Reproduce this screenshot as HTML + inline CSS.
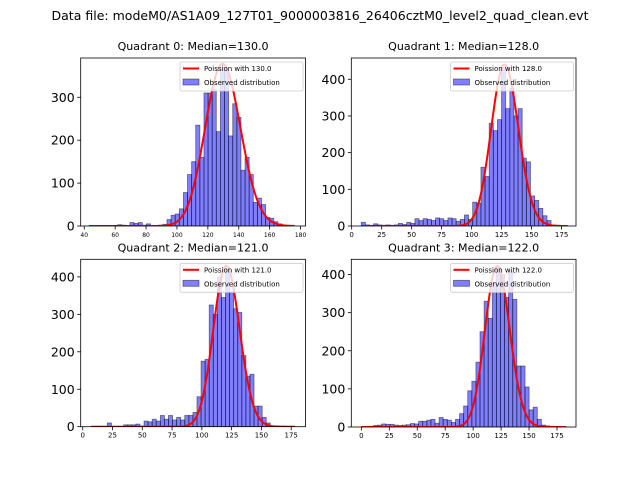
<!DOCTYPE html>
<html><head><meta charset="utf-8"><style>
html,body{margin:0;padding:0;background:#fff;}
svg{display:block;font-family:"DejaVu Sans","Liberation Sans",sans-serif;}
</style></head><body>
<svg id="fig" width="640" height="480" viewBox="0 0 640 480" xmlns="http://www.w3.org/2000/svg">
<rect width="640" height="480" fill="#fff"/>
<text x="320" y="20" font-size="12" text-anchor="middle" textLength="537" lengthAdjust="spacingAndGlyphs">Data file: modeM0/AS1A09_127T01_9000003816_26406cztM0_level2_quad_clean.evt</text>
</svg>
<script>
const medians = [130, 128, 121, 122];
const binStarts = [43, 8, 7, 0];
const binWidths = [2.66, 3.44, 3.42, 3.66];
const dataMax = [176, 180, 178, 183];
const peakHeights = [378, 440, 430, 422];
const counts0 = [0,0,0,0,0,0,1,3,2,0,8,6,8,2,5,1,0,2,4,15,25,28,40,78,120,150,235,160,310,310,318,220,370,365,210,285,253,130,160,120,55,65,50,20,18,10,5,2,1,1];
const counts1 = [10,3,2,6,3,2,3,2,3,7,4,10,7,20,15,20,18,15,22,20,15,22,20,13,18,30,18,65,62,160,135,280,260,290,440,320,375,300,320,185,175,82,70,48,28,15,3,2,1,1];
const counts2 = [0,0,0,0,10,0,0,0,5,5,5,7,2,15,13,20,15,30,20,30,18,25,18,30,30,38,80,175,180,325,300,400,345,420,360,315,305,190,135,140,55,55,25,10,2,1,0,0,0,1];
const counts3 = [0,0,2,4,5,8,7,7,5,4,5,6,9,8,15,15,18,20,10,25,20,18,12,20,35,55,95,120,170,250,330,285,380,420,400,340,410,335,160,160,105,45,52,20,5,3,2,1,0,1];
const allCounts = [counts0, counts1, counts2, counts3];
const xTicks0 = [40,60,80,100,120,140,160,180];
const xTicksOther = [0,25,50,75,100,125,150,175];
const yTicks0 = [0,100,200,300];
const yTicksOther = [0,100,200,300,400];

const panels = [
 {L:80.7,R:305.5,T:58,B:226,x0:37.7,x1:183.2,ymax:391.6,xt:xTicks0,yt:yTicks0,xfs:6},
 {L:351.3,R:576,T:58,B:226,x0:-0.3,x1:187,ymax:458,xt:xTicksOther,yt:yTicksOther,xfs:7},
 {L:80.7,R:305.5,T:259.3,B:426.7,x0:-1.7,x1:187,ymax:447,xt:xTicksOther,yt:yTicksOther,xfs:7},
 {L:351.3,R:576,T:259.3,B:427,x0:-9,x1:192,ymax:440,xt:xTicksOther,yt:yTicksOther,xfs:7}
];
const NS='http://www.w3.org/2000/svg';
const svg=document.getElementById('fig');
function mk(tag,attrs,parent){const e=document.createElementNS(NS,tag);for(const k in attrs)e.setAttribute(k,attrs[k]);(parent||svg).appendChild(e);return e;}
function lgamma(x){const c=[76.18009172947146,-86.50532032941677,24.01409824083091,-1.231739572450155,0.1208650973866179e-2,-0.5395239384953e-5];let y=x,t=x+5.5;t-=(x+0.5)*Math.log(t);let s=1.000000000190015;for(let j=0;j<6;j++)s+=c[j]/++y;return -t+Math.log(2.5066282746310005*s/x);}
function pois(k,l){return Math.exp(k*Math.log(l)-l-lgamma(k+1));}

panels.forEach((p,q)=>{
  const g=mk('g',{});
  
  
  const xs=v=>p.L+(v-p.x0)/(p.x1-p.x0)*(p.R-p.L);
  const ys=v=>p.B-v/p.ymax*(p.B-p.T);
  const t=mk('text',{x:(p.L+p.R)/2,y:p.T-8,'font-size':10.5,'text-anchor':'middle',textLength:151,lengthAdjust:'spacingAndGlyphs'},g);
  t.textContent='Quadrant '+q+': Median='+medians[q].toFixed(1);
  
  
  const clip=mk('clipPath',{id:'c'+q},g);mk('rect',{x:p.L,y:p.T,width:p.R-p.L,height:p.B-p.T},clip);
  const plot=mk('g',{'clip-path':'url(#c'+q+')'},g);
  const cs=allCounts[q];
  cs.forEach((c,i)=>{
    const a=binStarts[q]+i*binWidths[q], b=a+binWidths[q];
    const r=mk('rect',{x:xs(a),y:ys(c),width:xs(b)-xs(a),height:ys(0)-ys(c),fill:'#0000ff','fill-opacity':0.5,stroke:'#000','stroke-opacity':0.5,'stroke-width':0.8},plot);
    
    
  });
  const lam=medians[q], sc=peakHeights[q]/pois(Math.floor(lam),lam);
  let d='';
  for(let k=binStarts[q];k<=dataMax[q];k++){d+=(d?'L':'M')+xs(k).toFixed(2)+','+ys(pois(k,lam)*sc).toFixed(2);}
  const ln=mk('path',{d:d,fill:'none',stroke:'#ff0000','stroke-width':2},plot);
  
  
  const fr=mk('rect',{x:p.L,y:p.T,width:p.R-p.L,height:p.B-p.T,fill:'none',stroke:'#000','stroke-width':0.8},g);
  
  
  p.xt.forEach(v=>{
    const x=xs(v);
    mk('line',{x1:x,x2:x,y1:p.B,y2:p.B+3.5,stroke:'#000','stroke-width':0.8},g);
    const tt=mk('text',{x:x,y:p.B+11,'font-size':p.xfs,'text-anchor':'middle'},g);
    tt.textContent=v;
    
    
  });
  p.yt.forEach(v=>{
    const y=ys(v);
    mk('line',{x1:p.L-3.5,x2:p.L,y1:y,y2:y,stroke:'#000','stroke-width':0.8},g);
    const tt=mk('text',{x:p.L-6,y:y+4.5,'font-size':12.5,'text-anchor':'end'},g);
    tt.textContent=v;
    
    
  });
  const lg=mk('g',{},g);
  
  
  const lx=p.R-125.5, ly=p.T+4;
  mk('rect',{x:lx,y:ly,width:123,height:29,fill:'#fff','fill-opacity':0.8,stroke:'#ccc','stroke-width':0.8,rx:2},lg);
  mk('line',{x1:lx+3,x2:lx+19,y1:ly+6.5,y2:ly+6.5,stroke:'#ff0000','stroke-width':2},lg);
  const l1=mk('text',{x:lx+24,y:ly+9,'font-size':7},lg);l1.textContent='Poission with '+medians[q].toFixed(1);
  
  
  mk('rect',{x:lx+3,y:ly+17,width:16,height:6,fill:'#0000ff','fill-opacity':0.5,stroke:'#000','stroke-opacity':0.5,'stroke-width':0.8},lg);
  const l2=mk('text',{x:lx+24,y:ly+23,'font-size':7},lg);l2.textContent='Observed distribution';
  
  
});
</script>
</body></html>
